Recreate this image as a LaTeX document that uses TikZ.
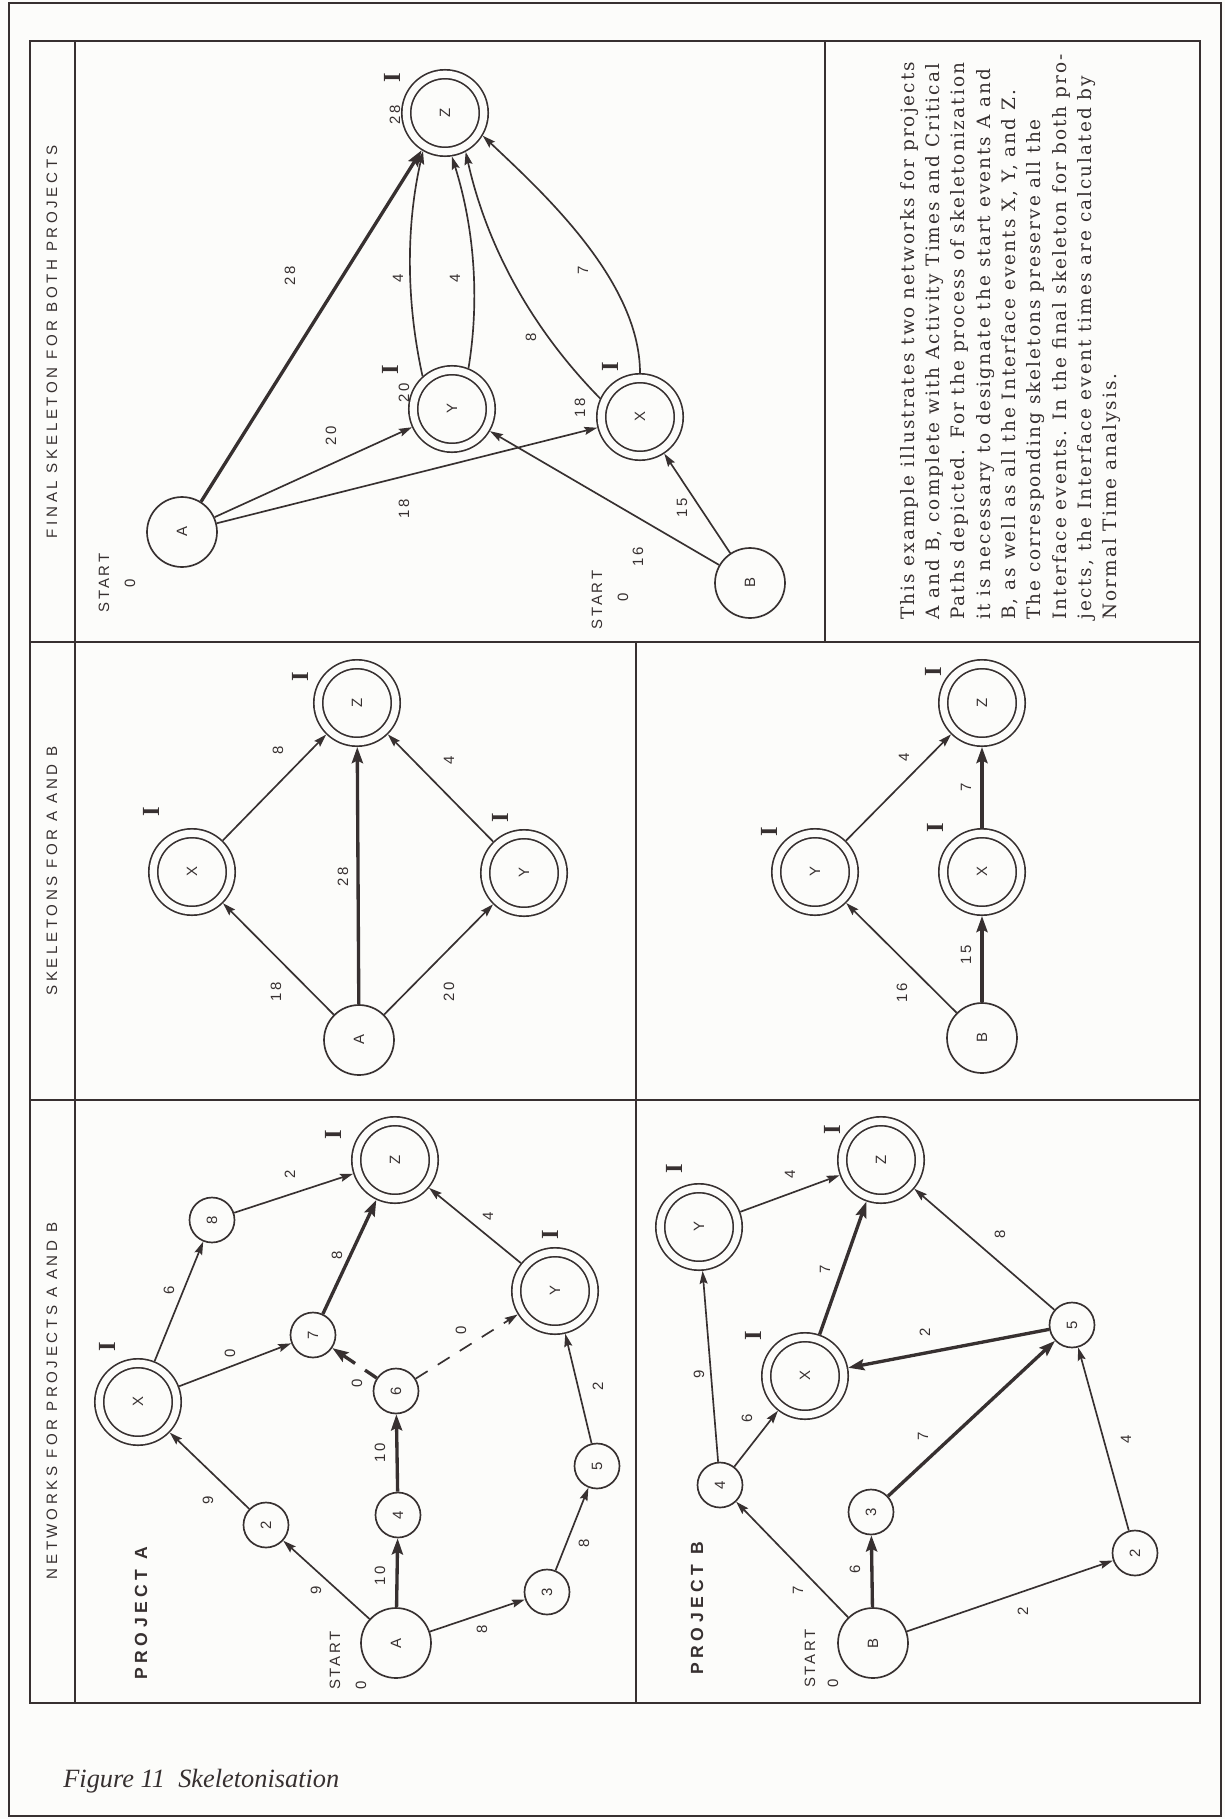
\documentclass[tikz,border=0pt]{standalone}
\usepackage{fontspec}
\setmainfont{Liberation Serif}
\setsansfont{Liberation Sans}
\newfontfamily\titlefont[LetterSpace=24]{Liberation Sans}
\newfontfamily\lblfont[LetterSpace=18]{Liberation Sans}
\newfontfamily\projfont[LetterSpace=26]{Liberation Sans}
\newfontfamily\bodyfont[LetterSpace=11]{DejaVu Serif}
\usetikzlibrary{arrows.meta}
\definecolor{ink}{RGB}{55,48,48}
\definecolor{paper}{RGB}{252,252,250}
\newcommand{\up}[1]{\rotatebox{90}{#1}}
\tikzstyle{frame} = [draw=ink, line width=1.1pt]
\tikzstyle{start} = [circle, draw=ink, line width=0.95pt, minimum size=1.4cm, inner sep=0pt, text=ink, font=\lblfont\fontsize{8.5}{10}\selectfont]
\tikzstyle{event} = [circle, draw=ink, line width=0.95pt, minimum size=0.9cm, inner sep=0pt, text=ink, font=\lblfont\fontsize{8.5}{10}\selectfont]
\tikzstyle{iface} = [circle, draw=ink, line width=0.95pt, double=paper, double distance=4.1pt, minimum size=1.55cm, inner sep=0pt, outer sep=3pt, text=ink, font=\lblfont\fontsize{8.5}{10}\selectfont]
\tikzstyle{lbl} = [rotate=90, inner sep=0pt, text=ink, font=\lblfont\fontsize{8.5}{10}\selectfont]
\tikzstyle{imark} = [rotate=90, inner sep=0pt, text=ink, font=\bfseries\fontsize{14}{14}\selectfont]
\tikzstyle{title} = [rotate=90, inner sep=0pt, text=ink, font=\titlefont\fontsize{8.6}{10}\selectfont]
\tikzstyle{proj} = [rotate=90, inner sep=0pt, anchor=west, text=ink, font=\projfont\bfseries\fontsize{10}{12}\selectfont]
\tikzstyle{arrow} = [draw=ink, line width=0.95pt, -{Stealth[length=0.26cm,width=0.16cm,inset=0.04cm]}]
\tikzstyle{crit} = [draw=ink, line width=1.9pt, -{Stealth[length=0.32cm,width=0.22cm,inset=0.05cm]}]
\tikzstyle{dummy} = [dash pattern=on 0.28cm off 0.24cm]

\begin{document}
\begin{tikzpicture}[x=0.02cm, y=-0.02cm]
\fill[paper] (0,0) rectangle (1225,1819);
\useasboundingbox (0,0) rectangle (1225,1819);

% frames
\draw[frame] (9,3) rectangle (1221,1816);
\draw[frame] (30,41) rectangle (1200,1703);
\draw[frame] (75,41) -- (75,1703);
\draw[frame] (30,642) -- (1200,642);
\draw[frame] (30,1100) -- (1200,1100);
\draw[frame] (636,642) -- (636,1703);
\draw[frame] (825,41) -- (825,642);

% column titles
\node[title] (t1) at (52,342) {FINAL SKELETON FOR BOTH PROJECTS};
\node[title] (t2) at (52,871) {SKELETONS FOR A AND B};
\node[title] (t3) at (52,1401) {NETWORKS FOR PROJECTS A AND B};

% final skeleton
\node[start] (fA) at (182,532) {\up{A}};
\node[iface] (fZ) at (445,113) {\up{Z}};
\node[iface] (fY) at (452,409) {\up{Y}};
\node[iface] (fX) at (640,417) {\up{X}};
\node[start] (fB) at (750,583) {\up{B}};
\draw[crit] (fA) -- (fZ);
\draw[arrow] (fA) -- (fY);
\draw[arrow] (fA) -- (fX);
\draw[arrow] (fB) -- (fY);
\draw[arrow] (fB) -- (fX);
\draw[arrow] (fY.132) .. controls (406,301) and (406,226) .. (fZ.240);
\draw[arrow] (fY.68) .. controls (480,298) and (474,227) .. (fZ.279);
\draw[arrow] (fX.155) .. controls (532,329) and (487,247) .. (fZ.298);
\draw[arrow] (fX.90) .. controls (640,280) and (540,190) .. (fZ.329);
\node[lbl] (f1) at (290,276) {28};
\node[lbl] (f2) at (331,436) {20};
\node[lbl] (f3) at (404,509) {18};
\node[lbl] (f4) at (398,278) {4};
\node[lbl] (f5) at (455,278) {4};
\node[lbl] (f6) at (531,337) {8};
\node[lbl] (f7) at (583,270) {7};
\node[lbl] (f8) at (638,557) {16};
\node[lbl] (f9) at (682,508) {15};
\node[lbl] (fzt) at (395,115) {28};
\node[lbl] (fyt) at (404,393) {20};
\node[lbl] (fxt) at (580,408) {18};
\node[imark] (fzi) at (392,78) {I};
\node[imark] (fyi) at (390,370) {I};
\node[imark] (fxi) at (610,367) {I};
\node[lbl] (fas) at (104,583) {START};
\node[lbl] (fa0) at (130,583) {0};
\node[lbl] (fbs) at (597,600) {START};
\node[lbl] (fb0) at (623,597) {0};

% note
\node[rotate=90, anchor=north west, inner sep=0pt, align=left, text=ink,
      font=\bodyfont\fontsize{10.5}{14.4}\selectfont] (note) at (900,620)
  {This example illustrates two networks for projects\\
   A and B, complete with Activity Times and Critical\\
   Paths depicted. For the process of skeletonization\\
   it is necessary to designate the start events A and\\
   B, as well as all the Interface events X, Y, and Z.\\
   The corresponding skeletons preserve all the\\
   Interface events. In the final skeleton for both pro-\\
   jects, the Interface event times are calculated by\\
   Normal Time analysis.};

% skeleton for A
\node[start] (sA) at (359,1040) {\up{A}};
\node[iface] (sAX) at (192,872) {\up{X}};
\node[iface] (sAY) at (524,873) {\up{Y}};
\node[iface] (sAZ) at (357,703) {\up{Z}};
\draw[arrow] (sA) -- (sAX);
\draw[crit] (sA) -- (sAZ);
\draw[arrow] (sA) -- (sAY);
\draw[arrow] (sAX) -- (sAZ);
\draw[arrow] (sAY) -- (sAZ);
\node[lbl] (sa1) at (276,992) {18};
\node[lbl] (sa2) at (343,877) {28};
\node[lbl] (sa3) at (449,992) {20};
\node[lbl] (sa4) at (278,750) {8};
\node[lbl] (sa5) at (449,760) {4};
\node[imark] (sazi) at (300,677) {I};
\node[imark] (saxi) at (151,812) {I};
\node[imark] (sayi) at (500,818) {I};

% skeleton for B
\node[start] (sB) at (982,1038) {\up{B}};
\node[iface] (sBY) at (815,872) {\up{Y}};
\node[iface] (sBX) at (982,872) {\up{X}};
\node[iface] (sBZ) at (982,703) {\up{Z}};
\draw[arrow] (sB) -- (sBY);
\draw[crit] (sB) -- (sBX);
\draw[crit] (sBX) -- (sBZ);
\draw[arrow] (sBY) -- (sBZ);
\node[lbl] (sb1) at (902,993) {16};
\node[lbl] (sb2) at (966,955) {15};
\node[lbl] (sb3) at (966,787) {7};
\node[lbl] (sb4) at (904,757) {4};
\node[imark] (sbzi) at (933,672) {I};
\node[imark] (sbyi) at (769,832) {I};
\node[imark] (sbxi) at (935,828) {I};

% project A network
\node[start] (pA) at (396,1643) {\up{A}};
\node[event] (p2) at (266,1525) {\up{2}};
\node[event] (p4) at (398,1515) {\up{4}};
\node[event] (p3) at (547,1592) {\up{3}};
\node[event] (p5) at (597,1466) {\up{5}};
\node[event] (p6) at (396,1391) {\up{6}};
\node[event] (p7) at (313,1335) {\up{7}};
\node[event] (p8) at (212,1220) {\up{8}};
\node[iface] (pX) at (138,1402) {\up{X}};
\node[iface] (pY) at (555,1291) {\up{Y}};
\node[iface] (pZ) at (395,1160) {\up{Z}};
\draw[arrow] (pA) -- (p2);
\draw[arrow] (p2) -- (pX);
\draw[crit] (pA) -- (p4);
\draw[crit] (p4) -- (p6);
\draw[arrow] (pA) -- (p3);
\draw[arrow] (p3) -- (p5);
\draw[arrow] (p5) -- (pY);
\draw[crit, dummy] (p6) -- (p7);
\draw[arrow, dummy] (p6) -- (pY);
\draw[arrow] (pX) -- (p7);
\draw[arrow] (pX) -- (p8);
\draw[arrow] (p8) -- (pZ);
\draw[crit] (p7) -- (pZ);
\draw[arrow] (pY) -- (pZ);
\node[lbl] (pa1) at (316,1590) {9};
\node[lbl] (pa2) at (208,1500) {9};
\node[lbl] (pa3) at (380,1576) {10};
\node[lbl] (pa4) at (380,1453) {10};
\node[lbl] (pa5) at (482,1629) {8};
\node[lbl] (pa6) at (584,1543) {8};
\node[lbl] (pa7) at (598,1386) {2};
\node[lbl] (pa8) at (357,1383) {0};
\node[lbl] (pa9) at (461,1330) {0};
\node[lbl] (pa10) at (230,1353) {0};
\node[lbl] (pa11) at (169,1290) {6};
\node[lbl] (pa12) at (290,1174) {2};
\node[lbl] (pa13) at (337,1255) {8};
\node[lbl] (pa14) at (488,1216) {4};
\node[imark] (paxi) at (107,1347) {I};
\node[imark] (pazi) at (333,1135) {I};
\node[imark] (payi) at (550,1235) {I};
\node[lbl, anchor=west] (pas) at (335,1690) {START};
\node[lbl, anchor=west] (pa0) at (361,1690) {0};
\node[proj] (pat) at (141,1680) {PROJECT A};

% project B network
\node[start] (qB) at (873,1643) {\up{B}};
\node[event] (q3) at (871,1512) {\up{3}};
\node[event] (q4) at (720,1485) {\up{4}};
\node[event] (q2) at (1135,1553) {\up{2}};
\node[event] (q5) at (1072,1325) {\up{5}};
\node[iface] (qX) at (805,1376) {\up{X}};
\node[iface] (qY) at (699,1227) {\up{Y}};
\node[iface] (qZ) at (881,1160) {\up{Z}};
\draw[arrow] (qB) -- (q4);
\draw[crit] (qB) -- (q3);
\draw[arrow] (qB) -- (q2);
\draw[arrow] (q2) -- (q5);
\draw[crit] (q3) -- (q5);
\draw[arrow] (q4) -- (qX);
\draw[arrow] (q4) -- (qY);
\draw[crit] (q5) -- (qX);
\draw[crit] (qX) -- (qZ);
\draw[arrow] (qY) -- (qZ);
\draw[arrow] (q5) -- (qZ);
\node[lbl] (pb1) at (798,1590) {7};
\node[lbl] (pb2) at (855,1569) {6};
\node[lbl] (pb3) at (1023,1611) {2};
\node[lbl] (pb4) at (1126,1439) {4};
\node[lbl] (pb5) at (923,1436) {7};
\node[lbl] (pb6) at (747,1418) {6};
\node[lbl] (pb7) at (699,1374) {9};
\node[lbl] (pb8) at (925,1332) {2};
\node[lbl] (pb9) at (825,1269) {7};
\node[lbl] (pb10) at (790,1174) {4};
\node[lbl] (pb11) at (1000,1234) {8};
\node[imark] (pbyi) at (674,1169) {I};
\node[imark] (pbxi) at (753,1336) {I};
\node[imark] (pbzi) at (832,1130) {I};
\node[lbl, anchor=west] (pbs) at (810,1688) {START};
\node[lbl, anchor=west] (pb0) at (833,1688) {0};
\node[proj] (pbt) at (697,1675) {PROJECT B};

% caption
\node[anchor=base west, inner sep=0pt, text=ink, font=\itshape\fontsize{15}{17}\selectfont] (cap) at (63,1787) {Figure 11\ \ Skeletonisation};
\end{tikzpicture}
\end{document}
